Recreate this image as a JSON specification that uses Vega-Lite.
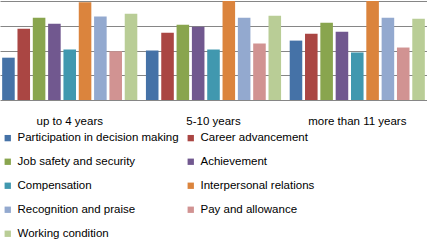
{
  "$schema": "https://vega.github.io/schema/vega-lite/v6.json",
  "width": 427,
  "height": 99,
  "autosize": "none",
  "padding": {"left": 0, "top": 1, "right": 0, "bottom": 143},
  "background": "white",
  "config": {"view": {"stroke": null}, "font": "Liberation Sans"},
  "data": {"values": [
    {"group": "up to 4 years", "factor": "Participation in decision making", "value": 1.71},
    {"group": "up to 4 years", "factor": "Career advancement", "value": 2.88},
    {"group": "up to 4 years", "factor": "Job safety and security", "value": 3.32},
    {"group": "up to 4 years", "factor": "Achievement", "value": 3.08},
    {"group": "up to 4 years", "factor": "Compensation", "value": 2.04},
    {"group": "up to 4 years", "factor": "Interpersonal relations", "value": 3.95},
    {"group": "up to 4 years", "factor": "Recognition and praise", "value": 3.37},
    {"group": "up to 4 years", "factor": "Pay and allowance", "value": 1.97},
    {"group": "up to 4 years", "factor": "Working condition", "value": 3.48},
    {"group": "5-10 years", "factor": "Participation in decision making", "value": 2.0},
    {"group": "5-10 years", "factor": "Career advancement", "value": 2.72},
    {"group": "5-10 years", "factor": "Job safety and security", "value": 3.04},
    {"group": "5-10 years", "factor": "Achievement", "value": 2.96},
    {"group": "5-10 years", "factor": "Compensation", "value": 2.04},
    {"group": "5-10 years", "factor": "Interpersonal relations", "value": 4.0},
    {"group": "5-10 years", "factor": "Recognition and praise", "value": 3.32},
    {"group": "5-10 years", "factor": "Pay and allowance", "value": 2.28},
    {"group": "5-10 years", "factor": "Working condition", "value": 3.4},
    {"group": "more than 11 years", "factor": "Participation in decision making", "value": 2.4},
    {"group": "more than 11 years", "factor": "Career advancement", "value": 2.68},
    {"group": "more than 11 years", "factor": "Job safety and security", "value": 3.12},
    {"group": "more than 11 years", "factor": "Achievement", "value": 2.76},
    {"group": "more than 11 years", "factor": "Compensation", "value": 1.92},
    {"group": "more than 11 years", "factor": "Interpersonal relations", "value": 4.0},
    {"group": "more than 11 years", "factor": "Recognition and praise", "value": 3.32},
    {"group": "more than 11 years", "factor": "Pay and allowance", "value": 2.12},
    {"group": "more than 11 years", "factor": "Working condition", "value": 3.28}
  ]},
  "mark": {"type": "bar", "clip": true},
  "encoding": {
    "x": {
      "field": "group", "type": "nominal",
      "sort": ["up to 4 years", "5-10 years", "more than 11 years"],
      "scale": {"paddingInner": 0.06, "paddingOuter": 0.015},
      "axis": {"title": null, "labelAngle": 0, "ticks": false, "domain": false, "labelPadding": 15, "labelFontSize": 11.5, "labelColor": "#000000", "labelBaseline": "top"}
    },
    "xOffset": {
      "field": "factor", "type": "nominal",
      "sort": ["Participation in decision making", "Career advancement", "Job safety and security", "Achievement", "Compensation", "Interpersonal relations", "Recognition and praise", "Pay and allowance", "Working condition"],
      "scale": {"paddingInner": 0.18, "paddingOuter": 0}
    },
    "y": {
      "field": "value", "type": "quantitative",
      "scale": {"domain": [0, 4], "nice": false},
      "axis": {"title": null, "values": [0, 1, 2, 3, 4], "labels": false, "ticks": false, "domain": false, "gridColor": "#868686", "gridWidth": 1}
    },
    "color": {
      "field": "factor", "type": "nominal",
      "scale": {
        "domain": ["Participation in decision making", "Career advancement", "Job safety and security", "Achievement", "Compensation", "Interpersonal relations", "Recognition and praise", "Pay and allowance", "Working condition"],
        "range": ["#4572A7", "#AA4643", "#89A54E", "#71588F", "#4198AF", "#DB843D", "#93A9CF", "#D19392", "#B9CD96"]
      },
      "legend": {
        "title": null, "orient": "none", "legendX": 2, "legendY": 131, "columns": 2, "direction": "horizontal",
        "symbolType": "square", "symbolSize": 40, "symbolStrokeWidth": 0,
        "labelFontSize": 11.5, "labelColor": "#000000", "labelOffset": 4,
        "rowPadding": 11, "columnPadding": 6, "labelLimit": 250
      }
    }
  }
}
